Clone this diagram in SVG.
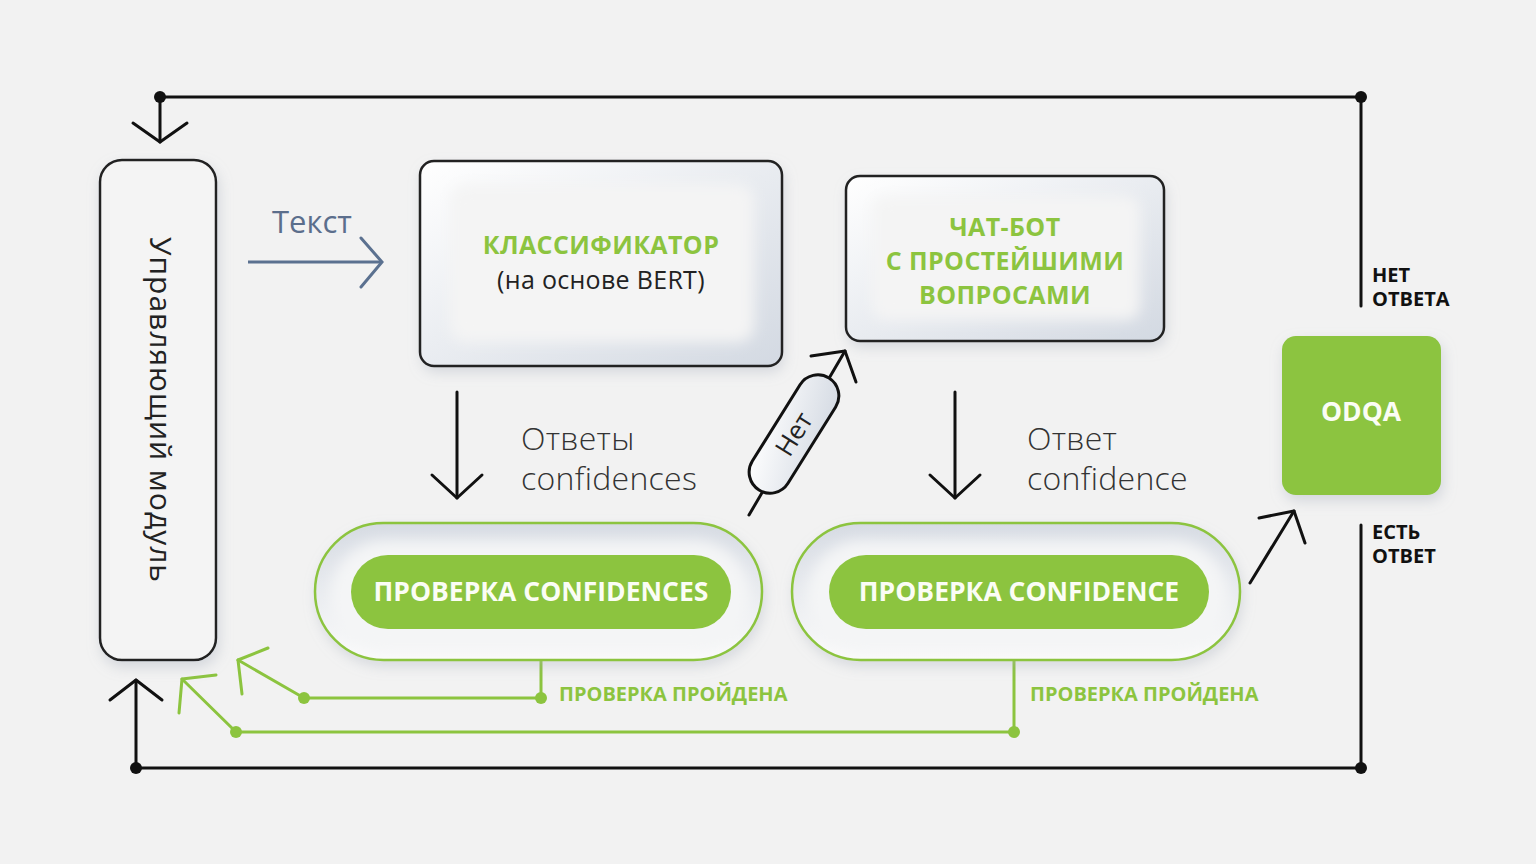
<svg xmlns="http://www.w3.org/2000/svg" width="1536" height="864" viewBox="0 0 1536 864">
<defs>
<style>
.blk{stroke:#111;stroke-width:3;fill:none;stroke-linecap:round;stroke-linejoin:round}
.grn{stroke:#8cc43f;stroke-width:3;fill:none;stroke-linecap:round;stroke-linejoin:round}
.gtitle{font-family:"Open Sans","Noto Sans",sans-serif;font-weight:700;fill:#8cc43f;font-size:25px;letter-spacing:0.4px;text-anchor:middle}
.wtitle{font-family:"Open Sans","Noto Sans",sans-serif;font-weight:700;fill:#fbfdf5;font-size:26.5px;text-anchor:middle}
.reg{font-family:"Open Sans","Noto Sans",sans-serif;fill:#222;font-size:25px;letter-spacing:0.3px}
.lbl{font-family:"Open Sans","Noto Sans",sans-serif;fill:#333;font-size:32px;font-weight:300;letter-spacing:0.3px}
.small{font-family:"Open Sans","Noto Sans",sans-serif;font-weight:700;font-size:20px}
</style>
<filter id="sh" x="-20%" y="-20%" width="140%" height="140%">
<feDropShadow dx="2" dy="6" stdDeviation="7" flood-color="#9aa4b4" flood-opacity="0.35"/>
</filter>
<filter id="bl" x="-20%" y="-20%" width="140%" height="140%">
<feGaussianBlur stdDeviation="7"/>
</filter>
<linearGradient id="bevel" x1="0" y1="0" x2="1" y2="1">
<stop offset="0" stop-color="#ffffff"/>
<stop offset="1" stop-color="#d3d9e2"/>
</linearGradient>
<linearGradient id="pbevel" x1="0" y1="0" x2="0" y2="1">
<stop offset="0" stop-color="#d6dbe3"/>
<stop offset="1" stop-color="#fbfbfb"/>
</linearGradient>
</defs>
<rect x="0" y="0" width="1536" height="864" fill="#f2f2f2"/>

<g id="connectors">
<!-- outer loop -->
<polyline class="blk" points="160,142 160,97 1361,97 1361,306"/>
<polyline class="blk" points="1361,525 1361,768 136,768 136,680"/>
<circle cx="160" cy="97" r="6" fill="#111"/>
<circle cx="1361" cy="97" r="6" fill="#111"/>
<circle cx="1361" cy="768" r="6" fill="#111"/>
<circle cx="136" cy="768" r="6" fill="#111"/>
<polyline class="blk" points="133,123 160,142 187,123"/>
<polyline class="blk" points="110,700 136,680 162,700"/>
<!-- text arrow -->
<line x1="248" y1="262" x2="382" y2="262" stroke="#5b7190" stroke-width="3"/>
<polyline points="361,238 382,262 361,287" stroke="#5b7190" stroke-width="3" fill="none" stroke-linecap="round"/>
<!-- down arrows -->
<line class="blk" x1="457" y1="392" x2="457" y2="498"/>
<polyline class="blk" points="432,475 457,498 482,475"/>
<line class="blk" x1="955" y1="392" x2="955" y2="498"/>
<polyline class="blk" points="930,475 955,498 980,475"/>
<!-- Нет arrow -->
<line class="blk" x1="749" y1="515" x2="845" y2="351"/>
<polyline class="blk" points="811,356 845,351 856,382"/>
<!-- to ODQA -->
<line class="blk" x1="1250" y1="583" x2="1294" y2="511"/>
<polyline class="blk" points="1259,518 1294,511 1305,543"/>
<!-- green returns -->
<polyline class="grn" points="541,660 541,698 304,698 238,660"/>
<polyline class="grn" points="268,648 238,660 242,694"/>
<circle cx="541" cy="698" r="6" fill="#8cc43f"/>
<circle cx="304" cy="698" r="6" fill="#8cc43f"/>
<polyline class="grn" points="1014,660 1014,732 236,732 182,679"/>
<polyline class="grn" points="216,675 182,679 179,713"/>
<circle cx="1014" cy="732" r="6" fill="#8cc43f"/>
<circle cx="236" cy="732" r="6" fill="#8cc43f"/>
<!-- labels -->
<text x="272" y="233" font-family="Open Sans, Noto Sans, sans-serif" font-size="31" fill="#5b6e8c">Текст</text>
<text class="lbl" x="521" y="450">Ответы</text>
<text class="lbl" x="521" y="490">confidences</text>
<text class="lbl" x="1027" y="450">Ответ</text>
<text class="lbl" x="1027" y="490">confidence</text>
<text class="small" x="559" y="701" fill="#8cc43f">ПРОВЕРКА ПРОЙДЕНА</text>
<text class="small" x="1030" y="701" fill="#8cc43f">ПРОВЕРКА ПРОЙДЕНА</text>
<text class="small" x="1372" y="282" fill="#111">НЕТ</text>
<text class="small" x="1372" y="306" fill="#111">ОТВЕТА</text>
<text class="small" x="1372" y="539" fill="#111">ЕСТЬ</text>
<text class="small" x="1372" y="563" fill="#111">ОТВЕТ</text>
</g>

<g id="net-pill" transform="translate(794,434) rotate(-58)">
<rect x="-66" y="-21" width="132" height="42" rx="21" fill="url(#bevel)" stroke="#111" stroke-width="3"/>
<text x="0" y="9" text-anchor="middle" font-family="Open Sans, Noto Sans, sans-serif" font-size="26" fill="#222">Нет</text>
</g>

<g id="control">
<rect x="100" y="160" width="116" height="500" rx="22" fill="#f4f4f4" stroke="#222" stroke-width="2.5" filter="url(#sh)"/>
<text transform="translate(150,410) rotate(90)" text-anchor="middle" font-family="Open Sans, Noto Sans, sans-serif" font-size="30" letter-spacing="1" fill="#222">Управляющий модуль</text>
</g>

<g id="classifier">
<rect x="420" y="161" width="362" height="205" rx="14" fill="url(#bevel)" filter="url(#sh)"/>
<rect x="450" y="184" width="304" height="158" rx="16" fill="#f4f4f4" filter="url(#bl)"/>
<rect x="420" y="161" width="362" height="205" rx="14" fill="none" stroke="#222" stroke-width="2.5"/>
<text class="gtitle" x="601" y="254">КЛАССИФИКАТОР</text>
<text class="reg" x="601" y="289" text-anchor="middle">(на основе BERT)</text>
</g>

<g id="chatbot">
<rect x="846" y="176" width="318" height="165" rx="14" fill="url(#bevel)" filter="url(#sh)"/>
<rect x="872" y="196" width="268" height="124" rx="14" fill="#f4f4f4" filter="url(#bl)"/>
<rect x="846" y="176" width="318" height="165" rx="14" fill="none" stroke="#222" stroke-width="2.5"/>
<text class="gtitle" x="1005" y="236">ЧАТ-БОТ</text>
<text class="gtitle" x="1005" y="270">С ПРОСТЕЙШИМИ</text>
<text class="gtitle" x="1005" y="304">ВОПРОСАМИ</text>
</g>

<g id="check1">
<rect x="315" y="523" width="447" height="137" rx="68.5" fill="url(#pbevel)" filter="url(#sh)"/>
<rect x="330" y="540" width="420" height="112" rx="56" fill="#f4f5f6" filter="url(#bl)"/>
<rect x="315" y="523" width="447" height="137" rx="68.5" fill="none" stroke="#8cc43f" stroke-width="2.5"/>
<rect x="351" y="555" width="380" height="74" rx="37" fill="#8cc43f"/>
<text class="wtitle" x="541" y="601">ПРОВЕРКА CONFIDENCES</text>
</g>

<g id="check2">
<rect x="792" y="523" width="448" height="137" rx="68.5" fill="url(#pbevel)" filter="url(#sh)"/>
<rect x="807" y="540" width="421" height="112" rx="56" fill="#f4f5f6" filter="url(#bl)"/>
<rect x="792" y="523" width="448" height="137" rx="68.5" fill="none" stroke="#8cc43f" stroke-width="2.5"/>
<rect x="829" y="555" width="380" height="74" rx="37" fill="#8cc43f"/>
<text class="wtitle" x="1019" y="601">ПРОВЕРКА CONFIDENCE</text>
</g>

<g id="odqa">
<rect x="1282" y="336" width="159" height="159" rx="14" fill="#8cc43f" filter="url(#sh)"/>
<text class="wtitle" x="1361" y="421">ODQA</text>
</g>
</svg>
